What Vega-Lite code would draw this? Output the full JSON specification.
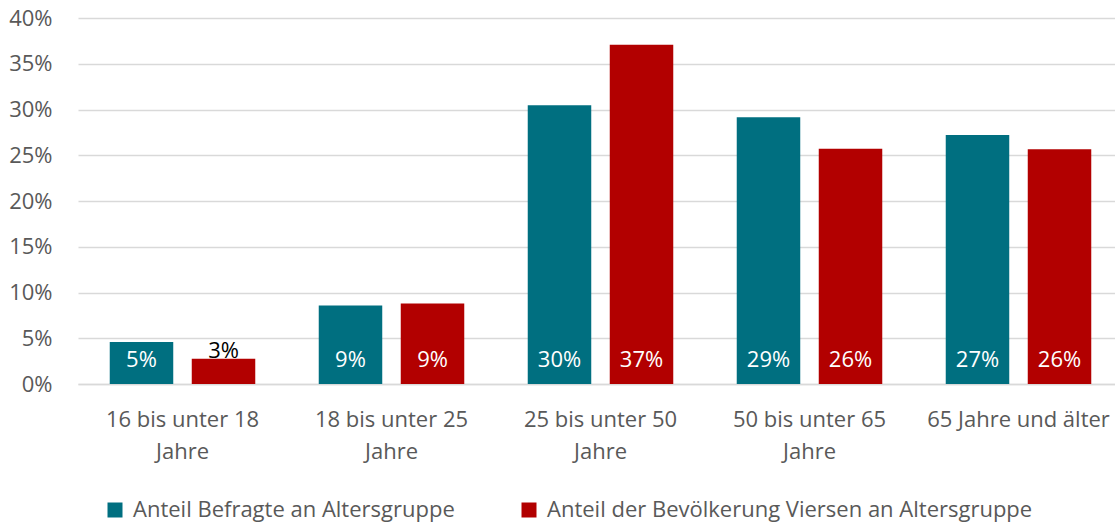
{
  "$schema": "https://vega.github.io/schema/vega-lite/v6.json",
  "width": 1045,
  "height": 366,
  "padding": {"left": 8, "top": 7, "right": 0, "bottom": 40},
  "background": "white",
  "config": {
    "view": {"stroke": null},
    "font": "Open Sans",
    "axis": {"labelFont": "Open Sans", "labelColor": "#595959", "labelFontSize": 22},
    "legend": {"labelFont": "Open Sans", "labelColor": "#595959", "labelFontSize": 22}
  },
  "data": {
    "values": [
      {"g": "16 bis unter 18 Jahre", "s": "Anteil Befragte an Altersgruppe", "v": 0.046},
      {"g": "16 bis unter 18 Jahre", "s": "Anteil der Bevölkerung Viersen an Altersgruppe", "v": 0.0275},
      {"g": "18 bis unter 25 Jahre", "s": "Anteil Befragte an Altersgruppe", "v": 0.0858},
      {"g": "18 bis unter 25 Jahre", "s": "Anteil der Bevölkerung Viersen an Altersgruppe", "v": 0.088},
      {"g": "25 bis unter 50 Jahre", "s": "Anteil Befragte an Altersgruppe", "v": 0.3047},
      {"g": "25 bis unter 50 Jahre", "s": "Anteil der Bevölkerung Viersen an Altersgruppe", "v": 0.3707},
      {"g": "50 bis unter 65 Jahre", "s": "Anteil Befragte an Altersgruppe", "v": 0.2916},
      {"g": "50 bis unter 65 Jahre", "s": "Anteil der Bevölkerung Viersen an Altersgruppe", "v": 0.257},
      {"g": "65 Jahre und älter", "s": "Anteil Befragte an Altersgruppe", "v": 0.272},
      {"g": "65 Jahre und älter", "s": "Anteil der Bevölkerung Viersen an Altersgruppe", "v": 0.2566}
    ]
  },
  "encoding": {
    "x": {
      "field": "g", "type": "nominal", "sort": null,
      "scale": {"paddingInner": 0, "paddingOuter": 0},
      "axis": {
        "title": null, "labelAngle": 0, "ticks": false,
        "domainColor": "#D9D9D9", "domainWidth": 1.5,
        "labelPadding": 25, "labelLineHeight": 32, "labelLimit": 400,
        "labelBaseline": "top",
        "labelExpr": "test(/unter/, datum.label) ? [replace(datum.label, ' Jahre', ''), 'Jahre'] : datum.label"
      }
    },
    "xOffset": {
      "field": "s", "type": "nominal", "sort": null,
      "scale": {"paddingInner": 0.2256, "paddingOuter": 0.387}
    }
  },
  "layer": [
    {
      "mark": {"type": "bar"},
      "encoding": {
        "y": {
          "field": "v", "type": "quantitative",
          "scale": {"domain": [0, 0.4]},
          "axis": {
            "title": null, "format": ".0%", "values": [0, 0.05, 0.1, 0.15, 0.2, 0.25, 0.3, 0.35, 0.4],
            "labelOverlap": false,
            "domain": false, "ticks": false, "labelPadding": 26,
            "gridColor": "#D9D9D9", "gridWidth": 1.5
          }
        },
        "color": {
          "field": "s", "type": "nominal", "sort": null,
          "scale": {"range": ["#006F80", "#B20000"]},
          "legend": {
            "title": null, "orient": "none", "direction": "horizontal",
            "legendX": 26, "legendY": 481,
            "symbolType": "square", "symbolSize": 225, "symbolStrokeWidth": 0,
            "labelOffset": 7,
            "labelLimit": 700, "columnPadding": 63, "symbolOffset": 0
          }
        }
      }
    },
    {
      "transform": [{"filter": "datum.v >= 0.04"}],
      "mark": {"type": "text", "color": "white", "fontSize": 22, "dy": -24, "baseline": "middle"},
      "encoding": {
        "y": {
          "datum": 0, "type": "quantitative",
          "axis": {
            "title": null, "format": ".0%", "values": [0, 0.05, 0.1, 0.15, 0.2, 0.25, 0.3, 0.35, 0.4],
            "labelOverlap": false,
            "domain": false, "ticks": false, "labelPadding": 26,
            "gridColor": "#D9D9D9", "gridWidth": 1.5
          }
        },
        "text": {"field": "v", "type": "quantitative", "format": ".0%"}
      }
    },
    {
      "transform": [{"filter": "datum.v < 0.04"}],
      "mark": {"type": "text", "color": "black", "fontSize": 22, "dy": -1, "baseline": "alphabetic"},
      "encoding": {
        "y": {
          "field": "v", "type": "quantitative",
          "axis": {
            "title": null, "format": ".0%", "values": [0, 0.05, 0.1, 0.15, 0.2, 0.25, 0.3, 0.35, 0.4],
            "labelOverlap": false,
            "domain": false, "ticks": false, "labelPadding": 26,
            "gridColor": "#D9D9D9", "gridWidth": 1.5
          }
        },
        "text": {"field": "v", "type": "quantitative", "format": ".0%"}
      }
    }
  ]
}
